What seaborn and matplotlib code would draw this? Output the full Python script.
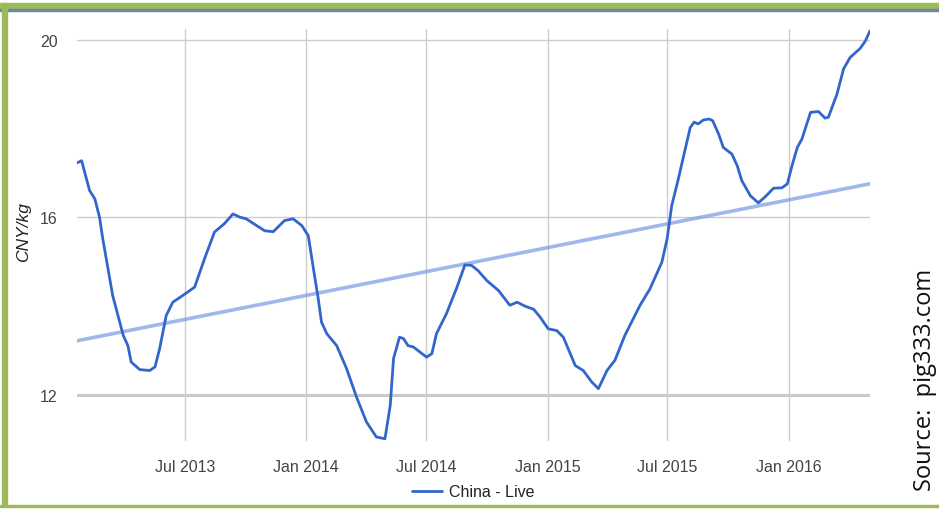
import numpy as np
import pandas as pd
import matplotlib
matplotlib.use("Agg")
import matplotlib.pyplot as plt
import matplotlib.dates as mdates
from matplotlib.patches import Rectangle
import seaborn as sns

# China - Live pig price, CNY/kg
dates = [
    "2013-01-19", "2013-01-26", "2013-02-07", "2013-02-15", "2013-02-22", "2013-02-27",
    "2013-03-14", "2013-03-30", "2013-04-06", "2013-04-11", "2013-04-24", "2013-05-09",
    "2013-05-17", "2013-05-24", "2013-06-03", "2013-06-13", "2013-06-28", "2013-07-16",
    "2013-07-31", "2013-08-15", "2013-08-30", "2013-09-12", "2013-09-22", "2013-10-02",
    "2013-10-30", "2013-11-12", "2013-11-29", "2013-12-12", "2013-12-25", "2014-01-04",
    "2014-01-11", "2014-01-19", "2014-01-24", "2014-02-01", "2014-02-16", "2014-03-03",
    "2014-03-18", "2014-04-02", "2014-04-17", "2014-04-30", "2014-05-08", "2014-05-13",
    "2014-05-22", "2014-05-28", "2014-06-04", "2014-06-12", "2014-07-02", "2014-07-10",
    "2014-07-17", "2014-08-01", "2014-08-16", "2014-08-29", "2014-09-08", "2014-09-18",
    "2014-10-01", "2014-10-19", "2014-11-05", "2014-11-16", "2014-11-28", "2014-12-11",
    "2014-12-21", "2015-01-02", "2015-01-15", "2015-01-25", "2015-02-12", "2015-02-24",
    "2015-03-09", "2015-03-19", "2015-04-01", "2015-04-13", "2015-04-28", "2015-05-21",
    "2015-06-05", "2015-06-23", "2015-07-01", "2015-07-08", "2015-07-18", "2015-07-26",
    "2015-08-05", "2015-08-11", "2015-08-17", "2015-08-25", "2015-09-03", "2015-09-08",
    "2015-09-17", "2015-09-24", "2015-10-07", "2015-10-15", "2015-10-22", "2015-11-04",
    "2015-11-16", "2015-11-26", "2015-12-09", "2015-12-22", "2015-12-30", "2016-01-06",
    "2016-01-14", "2016-01-21", "2016-02-03", "2016-02-15", "2016-02-25", "2016-03-01",
    "2016-03-14", "2016-03-24", "2016-04-03", "2016-04-18", "2016-04-26", "2016-05-03",
]
prices = [
    17.23, 17.28, 16.61, 16.42, 16.01, 15.52,
    14.24, 13.34, 13.11, 12.74, 12.57, 12.55,
    12.63, 13.04, 13.79, 14.09, 14.24, 14.43,
    15.07, 15.67, 15.86, 16.08, 16.01, 15.97,
    15.70, 15.68, 15.93, 15.97, 15.82, 15.59,
    14.92, 14.17, 13.64, 13.38, 13.11, 12.59,
    11.95, 11.39, 11.05, 11.01, 11.76, 12.82,
    13.30, 13.27, 13.11, 13.08, 12.85, 12.93,
    13.38, 13.83, 14.39, 14.93, 14.92, 14.80,
    14.58, 14.35, 14.02, 14.09, 14.00, 13.93,
    13.75, 13.49, 13.45, 13.30, 12.66, 12.55,
    12.29, 12.14, 12.55, 12.78, 13.34, 14.02,
    14.39, 14.99, 15.52, 16.27, 16.87, 17.39,
    18.03, 18.15, 18.11, 18.20, 18.22, 18.18,
    17.88, 17.58, 17.43, 17.17, 16.83, 16.49,
    16.33, 16.46, 16.66, 16.67, 16.76, 17.17,
    17.58, 17.77, 18.37, 18.39, 18.24, 18.26,
    18.78, 19.35, 19.61, 19.81, 19.98, 20.21,
]

# trendline as drawn in the chart (start / end values)
trend_dates = ["2013-01-19", "2016-05-03"]
trend_values = [13.22, 16.76]

x_ticks = ["2013-07-01", "2014-01-01", "2014-07-01", "2015-01-01", "2015-07-01", "2016-01-01"]
y_ticks = [12, 16, 20]

df = pd.DataFrame({"date": pd.to_datetime(dates), "price": prices})
trend = pd.DataFrame({"date": pd.to_datetime(trend_dates), "price": trend_values})

sns.set_theme(style="white")
plt.rcParams["font.family"] = ["Liberation Sans", "DejaVu Sans"]

fig = plt.figure(figsize=(9.39, 5.10), dpi=100)
ax = fig.add_axes([77 / 939, 1 - 442 / 510, (870 - 77) / 939, (442 - 30) / 510])

sns.lineplot(data=trend, x="date", y="price", ax=ax, color="#7f9fe3", lw=2.6,
             alpha=0.75, legend=False)
sns.lineplot(data=df, x="date", y="price", ax=ax, color="#3366cc", lw=2.0,
             label="China - Live")

ax.set_xlim(df["date"].iloc[0], df["date"].iloc[-1])
ax.set_ylim(10.96, 20.25)
ax.set_xticks(pd.to_datetime(x_ticks))
ax.xaxis.set_major_formatter(mdates.DateFormatter("%b %Y"))
ax.set_yticks(y_ticks)
ax.grid(True, color="#cccccc", lw=1.0)
ax.axhline(12, color="#c8c8c8", lw=2.2, zorder=0.5)
ax.set_axisbelow(True)
for s in ax.spines.values():
    s.set_visible(False)
ax.tick_params(length=0, labelsize=11.5, colors="#444444")
ax.tick_params(axis="x", pad=13)
ax.tick_params(axis="y", pad=14)
ax.set_xlabel("")
ax.set_ylabel("CNY/kg", fontsize=12.5, style="italic", color="#222222")
ax.yaxis.set_label_coords(-46 / 793, 0.51)

ax.legend(loc="center", bbox_to_anchor=(473 / 939, 1 - 493 / 510),
          bbox_transform=fig.transFigure, frameon=False, fontsize=11.5,
          handlelength=1.9, handletextpad=0.4, labelcolor="#222222")

# source note on the right
fig.text(925 / 939, 1 - 380 / 510, "Source:  pig333.com", rotation=90,
         ha="center", va="center", fontsize=17, color="#111111",
         family=["Open Sans", "DejaVu Sans"])

# green frame of the slide
green = "#9bbb59"
fig.patches.append(Rectangle((0, 1 - 10 / 510), 1, 6 / 510, transform=fig.transFigure,
                             color=green, zorder=5))
fig.patches.append(Rectangle((0, 1 - 11.5 / 510), 1, 1.5 / 510, transform=fig.transFigure,
                             color="#6f86a0", zorder=5))
fig.patches.append(Rectangle((2 / 939, 3 / 510), 5 / 939, 1 - 7 / 510,
                             transform=fig.transFigure, color=green, zorder=5))
fig.patches.append(Rectangle((0, 2 / 510), 1, 2.5 / 510, transform=fig.transFigure,
                             color=green, zorder=5))

fig.savefig("out.png", dpi=100)
